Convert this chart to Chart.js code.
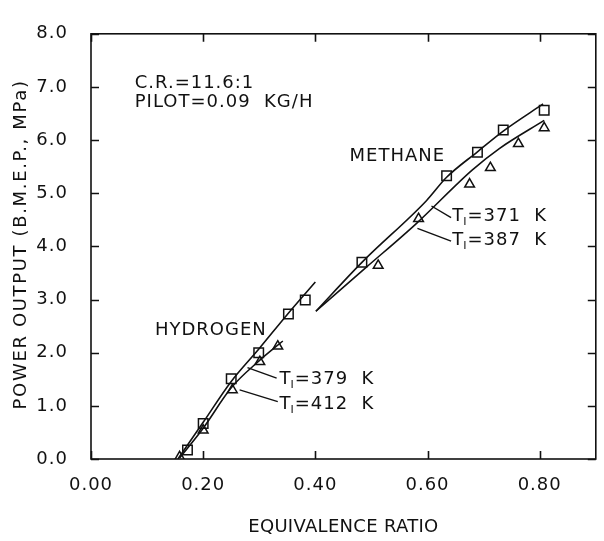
<!DOCTYPE html>
<html><head><meta charset="utf-8">
<script src="https://cdn.jsdelivr.net/npm/chart.js@4.4.1/dist/chart.umd.min.js"></script>
<style>html,body{margin:0;padding:0;background:#fff;}canvas{display:block;}</style>
</head><body>
<canvas id="c" width="604" height="541"></canvas>
<script>
// ---- tick labels ----
const xTicks = [0, 0.2, 0.4, 0.6, 0.8];
const yTicks = [0, 1, 2, 3, 4, 5, 6, 7, 8];

// ---- hydrogen data ----
const h2SqX  = [0.172, 0.200, 0.250, 0.299, 0.352, 0.382];
const h2SqY  = [0.17, 0.67, 1.51, 2.00, 2.73, 2.99];
const h2TriX = [0.158, 0.200, 0.252, 0.301, 0.333];
const h2TriY = [0.04, 0.54, 1.30, 1.83, 2.12];
// fitted curves
const h2Fit379X = [0.155, 0.200, 0.250, 0.300, 0.350, 0.400];
const h2Fit379Y = [0.00, 0.69, 1.46, 2.08, 2.72, 3.33];
const h2Fit412X = [0.158, 0.200, 0.250, 0.300, 0.342];
const h2Fit412Y = [0.02, 0.58, 1.34, 1.85, 2.22];

// ---- methane data ----
const ch4SqX  = [0.483, 0.634, 0.689, 0.735, 0.808];
const ch4SqY  = [3.70, 5.33, 5.77, 6.19, 6.56];
const ch4TriX = [0.512, 0.584, 0.675, 0.712, 0.762, 0.808];
const ch4TriY = [3.64, 4.52, 5.17, 5.48, 5.93, 6.23];
const ch4Fit371X = [0.401, 0.483, 0.598, 0.634, 0.689, 0.735, 0.806];
const ch4Fit371Y = [2.78, 3.70, 4.86, 5.30, 5.78, 6.17, 6.68];
const ch4Fit387X = [0.401, 0.490, 0.580, 0.680, 0.728, 0.808];
const ch4Fit387Y = [2.78, 3.60, 4.43, 5.44, 5.84, 6.37];

const pts = (xs, ys) => xs.map((x, i) => ({x, y: ys[i]}));

const FONT = '"DejaVu Sans", sans-serif';
const INK = '#111';

// annotations (data coordinates)
const notes = [
  {text: 'C.R.=11.6:1', x: 0.078, y: 6.98},
  {text: 'PILOT=0.09  KG/H', x: 0.078, y: 6.63},
  {text: 'METHANE', x: 0.461, y: 5.60},
  {text: 'HYDROGEN', x: 0.114, y: 2.33}
];
const tLabels = [
  {val: '=371  K', x: 0.644, y: 4.47, lx1: 0.607, ly1: 4.76, lx2: 0.642, ly2: 4.54},
  {val: '=387  K', x: 0.644, y: 4.03, lx1: 0.582, ly1: 4.34, lx2: 0.642, ly2: 4.10},
  {val: '=379  K', x: 0.336, y: 1.41, lx1: 0.279, ly1: 1.72, lx2: 0.331, ly2: 1.52},
  {val: '=412  K', x: 0.336, y: 0.95, lx1: 0.265, ly1: 1.30, lx2: 0.333, ly2: 1.08}
];

const decor = {
  id: 'decor',
  beforeDraw(chart) { chart.ctx.letterSpacing = '1px'; },
  afterDraw(chart) {
    const ctx = chart.ctx, a = chart.chartArea;
    const xs = chart.scales.x, ys = chart.scales.y;
    ctx.save();
    ctx.strokeStyle = INK; ctx.fillStyle = INK;
    ctx.lineWidth = 1.6;
    ctx.strokeRect(a.left, a.top, a.right - a.left, a.bottom - a.top);
    const tl = 8;
    ctx.beginPath();
    xTicks.forEach(v => {
      const p = Math.round(xs.getPixelForValue(v)) + 0.5;
      ctx.moveTo(p, a.bottom); ctx.lineTo(p, a.bottom - tl);
      ctx.moveTo(p, a.top); ctx.lineTo(p, a.top + tl);
    });
    yTicks.forEach(v => {
      const p = Math.round(ys.getPixelForValue(v)) + 0.5;
      ctx.moveTo(a.left, p); ctx.lineTo(a.left + tl, p);
      ctx.moveTo(a.right, p); ctx.lineTo(a.right - tl, p);
    });
    ctx.stroke();

    ctx.font = '18px ' + FONT;
    ctx.textBaseline = 'alphabetic';
    ctx.textAlign = 'left';
    ctx.letterSpacing = '1px';
    notes.forEach(n => ctx.fillText(n.text, xs.getPixelForValue(n.x), ys.getPixelForValue(n.y)));

    ctx.lineWidth = 1.4;
    tLabels.forEach(t => {
      ctx.beginPath();
      ctx.moveTo(xs.getPixelForValue(t.lx1), ys.getPixelForValue(t.ly1));
      ctx.lineTo(xs.getPixelForValue(t.lx2), ys.getPixelForValue(t.ly2));
      ctx.stroke();
      let px = xs.getPixelForValue(t.x), py = ys.getPixelForValue(t.y);
      ctx.font = '18px ' + FONT;
      ctx.fillText('T', px, py);
      px += ctx.measureText('T').width - 1;
      ctx.font = '11px ' + FONT;
      ctx.fillText('I', px, py + 4);
      px += ctx.measureText('I').width;
      ctx.font = '18px ' + FONT;
      ctx.fillText(t.val, px, py);
    });

    // axis titles
    ctx.font = '18px ' + FONT;
    ctx.textAlign = 'center';
    ctx.textBaseline = 'middle';
    ctx.letterSpacing = '0.3px';
    ctx.fillText('EQUIVALENCE RATIO', (a.left + a.right) / 2, 527);
    ctx.save();
    ctx.translate(21.5, (a.top + a.bottom) / 2 - 2);
    ctx.rotate(-Math.PI / 2);
    ctx.letterSpacing = '1.65px';
    ctx.fillText('POWER OUTPUT (B.M.E.P., MPa)', 0, 0);
    ctx.restore();
    ctx.restore();
  }
};

const lineDs = (xs, ys) => ({
  data: pts(xs, ys), showLine: true, pointRadius: 0, borderColor: INK,
  borderWidth: 1.6, cubicInterpolationMode: 'monotone', fill: false
});
const markDs = (xs, ys, style, r) => ({
  data: pts(xs, ys), showLine: false, pointStyle: style, pointRadius: r,
  pointBorderWidth: 1.5, borderColor: INK, pointBorderColor: INK,
  backgroundColor: 'rgba(0,0,0,0)', pointBackgroundColor: 'rgba(0,0,0,0)'
});

new Chart(document.getElementById('c'), {
  type: 'scatter',
  data: {
    datasets: [
      lineDs(h2Fit379X, h2Fit379Y),
      lineDs(h2Fit412X, h2Fit412Y),
      lineDs(ch4Fit371X, ch4Fit371Y),
      lineDs(ch4Fit387X, ch4Fit387Y),
      markDs(h2SqX, h2SqY, 'rect', 6.7),
      markDs(h2TriX, h2TriY, 'triangle', 5.6),
      markDs(ch4SqX, ch4SqY, 'rect', 6.7),
      markDs(ch4TriX, ch4TriY, 'triangle', 5.6)
    ]
  },
  options: {
    responsive: false, animation: false, devicePixelRatio: 1,
    layout: {padding: {top: 22, right: 5, left: 0, bottom: 0}},
    plugins: {legend: {display: false}, tooltip: {enabled: false}},
    scales: {
      x: {
        type: 'linear', min: 0, max: 0.9,
        grid: {display: false, drawTicks: false}, border: {display: false},
        afterBuildTicks: s => { s.ticks = xTicks.map(v => ({value: v})); },
        afterFit: s => { s.height = 82; },
        ticks: {padding: 16, color: INK, font: {family: FONT, size: 18},
                callback: v => Number(v).toFixed(2)}
      },
      y: {
        type: 'linear', min: 0, max: 8,
        grid: {display: false, drawTicks: false}, border: {display: false},
        afterBuildTicks: s => { s.ticks = yTicks.map(v => ({value: v})); },
        afterFit: s => { s.width = 91; },
        ticks: {padding: 23, color: INK, font: {family: FONT, size: 18},
                callback: v => Number(v).toFixed(1)}
      }
    }
  },
  plugins: [decor]
});
</script>
</body></html>
